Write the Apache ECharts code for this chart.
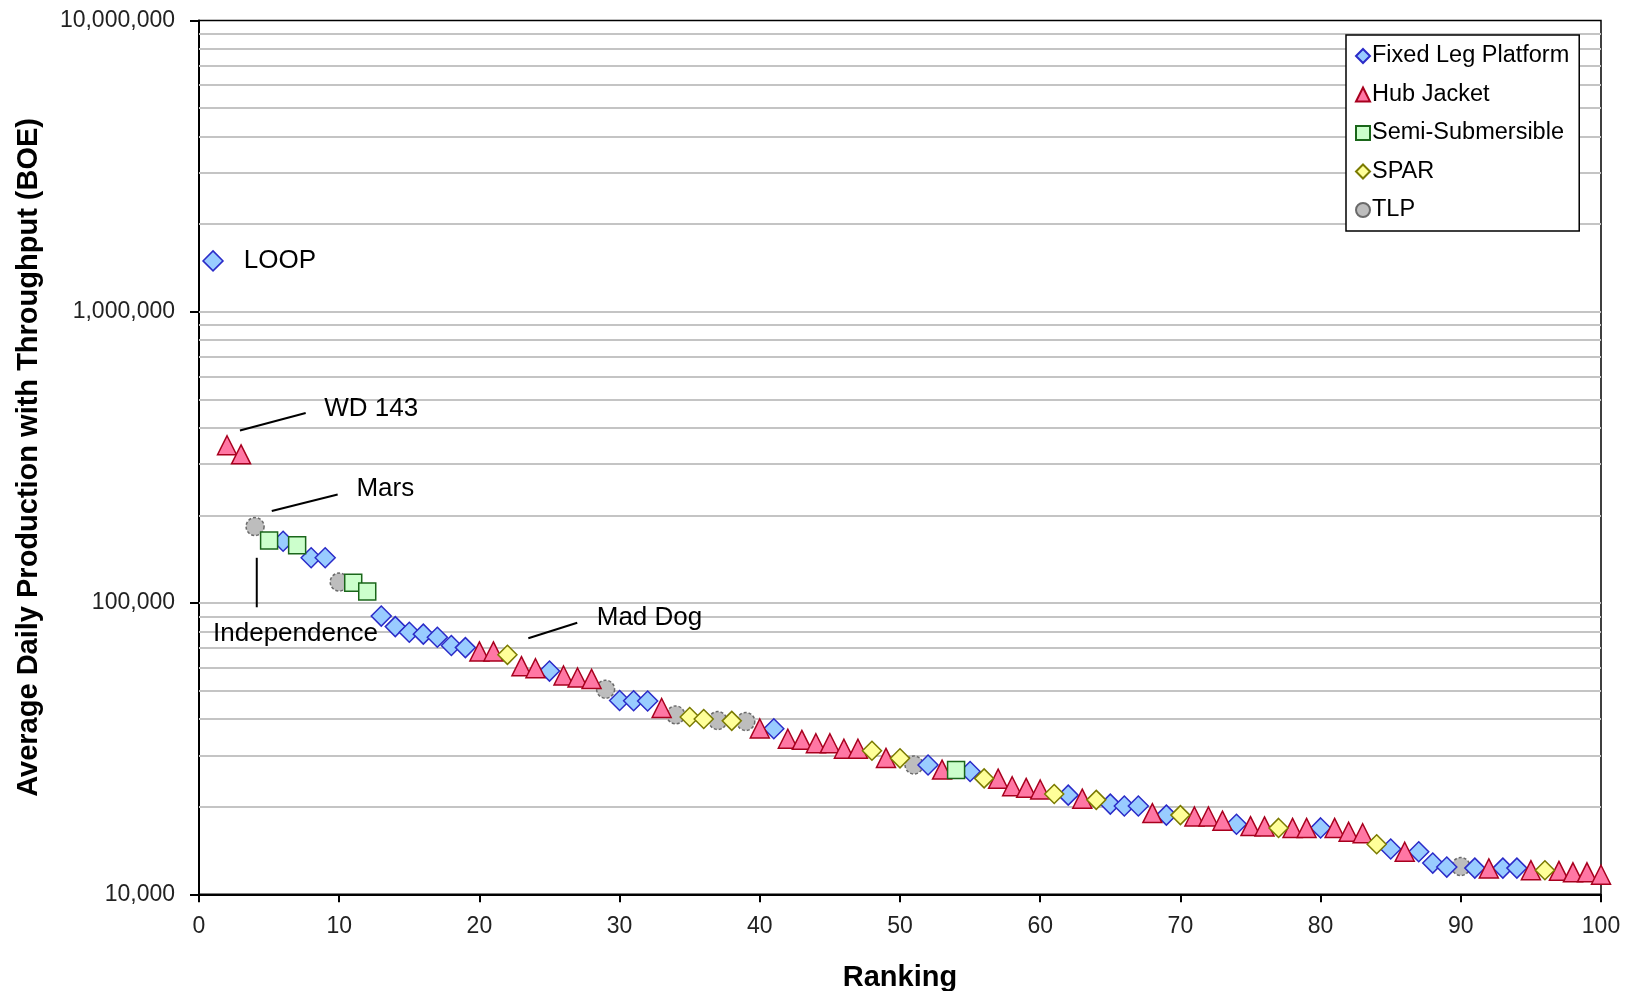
<!DOCTYPE html>
<html>
<head>
<meta charset="utf-8">
<script src="https://cdn.jsdelivr.net/npm/echarts@6/dist/echarts.min.js"></script>
<style>
  html, body { margin: 0; padding: 0; background: #fff; }
  #chart { width: 1626px; height: 991px; }
</style>
</head>
<body>
<div id="chart"></div>
<script>
// Average daily production (BOE, incl. throughput) for the top 100 facilities, by ranking (1 = highest)
const production = [
  1495000, 348000, 324000, 183000, 164000, 163000, 158000, 143000, 143000, 118000,
  117500, 109500, 90200, 83000, 79400, 78200, 76300, 71500, 70300, 68200,
  68200, 66400, 60700, 59700, 58400, 56400, 55500, 54900, 50600, 46300,
  46200, 46100, 43600, 41300, 40600, 40000, 39500, 39400, 39200, 37100,
  37000, 34200, 33900, 33000, 33000, 31600, 31600, 31100, 29400, 29300,
  27800, 27800, 26800, 26700, 26400, 25000, 24950, 23500, 23200, 22900,
  22100, 21900, 21300, 21100, 20400, 20100, 20100, 19000, 18700, 18700,
  18500, 18500, 17900, 17400, 17150, 17100, 16900, 16900, 16900, 16900,
  16900, 16400, 16200, 14850, 14300, 14000, 14000, 12800, 12400, 12450,
  12300, 12270, 12300, 12300, 12100, 12100, 12040, 11900, 11900, 11670
];

// Platform type of each ranked facility (F fixed leg, H hub jacket, S semi-sub, P SPAR, T TLP)
const platform = [
  'F','H','H','T','S','F','S','F','F','T',
  'S','S','F','F','F','F','F','F','F','H',
  'H','P','H','H','F','H','H','H','T','F',
  'F','F','H','T','P','P','T','P','T','H',
  'F','H','H','H','H','H','H','P','H','P',
  'T','F','H','S','F','P','H','H','H','H',
  'P','F','H','P','F','F','F','H','F','P',
  'H','H','H','F','H','H','P','H','H','F',
  'H','H','H','P','F','H','F','F','F','T',
  'F','H','F','F','H','P','H','H','H','H'
];

const platformNames = {
  F: 'Fixed Leg Platform',
  H: 'Hub Jacket',
  S: 'Semi-Submersible',
  P: 'SPAR',
  T: 'TLP'
};

// y-axis decade labels
const yTicks = [10000, 100000, 1000000, 10000000];

// Named facilities called out on the plot (positions in data units)
const callouts = [
  { text: 'LOOP', at: [3.2, 1490000], align: 'left' },
  { text: 'WD 143', at: [8.93, 463000], align: 'left', leader: [[2.92, 391000], [7.61, 449000]] },
  { text: 'Mars', at: [11.23, 246000], align: 'left', leader: [[5.19, 207000], [9.89, 236000]] },
  { text: 'Independence', at: [6.88, 78700], align: 'center', leader: [[4.12, 143000], [4.12, 96700]] },
  { text: 'Mad Dog', at: [28.37, 89300], align: 'left', leader: [[23.49, 75700], [26.98, 85600]] }
];

const FONT = '"Liberation Sans", Arial, sans-serif';

const markerStyle = {
  F: { symbol: 'diamond', size: 20, fill: '#99CCFF', border: '#2B2BC8', z: 3 },
  H: { symbol: 'triangle', size: 19, fill: '#FF77A4', border: '#A8001E', z: 4 },
  S: { symbol: 'rect', size: 17, fill: '#CCFFCC', border: '#1A661A', z: 6 },
  P: { symbol: 'diamond', size: 19, fill: '#FFFF99', border: '#7A7A00', z: 5 },
  T: { symbol: 'circle', size: 18, fill: '#BDBDBD', border: '#6A6A6A', z: 2 }
};

// light gridlines at every 1..9 multiple inside each decade
const gridValues = [];
yTicks.slice(0, -1).forEach(function (d) {
  for (let m = 1; m <= 9; m++) {
    if (!(d === yTicks[0] && m === 1)) gridValues.push(m * d);
  }
});

const series = ['F', 'H', 'S', 'P', 'T'].map(function (code, idx) {
  const st = markerStyle[code];
  const pts = [];
  production.forEach(function (v, i) {
    if (platform[i] === code) pts.push([i + 1, v]);
  });
  const s = {
    name: platformNames[code],
    type: 'scatter',
    data: pts,
    symbol: st.symbol,
    symbolSize: st.size,
    z: st.z,
    itemStyle: {
      color: st.fill,
      borderColor: st.border,
      borderWidth: 1.5,
      borderType: code === 'T' ? [3, 2] : 'solid',
      opacity: 1
    },
    emphasis: { disabled: true },
    animation: false
  };
  if (idx === 0) {
    s.markLine = {
      silent: true,
      symbol: 'none',
      z: 1,
      label: { show: false },
      lineStyle: { color: '#C4C4C4', width: 2, type: 'solid' },
      data: gridValues.map(function (v) { return { yAxis: v }; }),
      animation: false
    };
  }
  return s;
});

const chart = echarts.init(document.getElementById('chart'), null, { renderer: 'canvas' });

chart.setOption({
  backgroundColor: '#fff',
  animation: false,
  textStyle: { fontFamily: FONT },
  grid: {
    left: 199, right: 25, top: 20.5, bottom: 96.7,
    containLabel: false,
    outerBoundsMode: 'none',
    show: true, borderColor: '#000', borderWidth: 1.5, backgroundColor: '#fff'
  },
  legend: {
    orient: 'vertical',
    left: 1346,
    top: 35,
    padding: [9, 10, 9, 9],
    itemWidth: 14,
    itemHeight: 14,
    itemGap: 14.5,
    backgroundColor: '#fff',
    borderColor: '#000',
    borderWidth: 1.5,
    borderRadius: 0,
    selectedMode: false,
    textStyle: { fontFamily: FONT, fontSize: 23.5, color: '#000', lineHeight: 24, padding: [0, 0, 0, -3] },
    data: ['F', 'H', 'S', 'P', 'T'].map(function (c) { return { name: platformNames[c] }; })
  },
  xAxis: {
    type: 'value',
    min: 0,
    max: 100,
    interval: 10,
    name: 'Ranking',
    nameLocation: 'middle',
    nameGap: 69,
    nameTextStyle: { fontFamily: FONT, fontSize: 29, fontWeight: 'bold', color: '#000' },
    axisLine: { show: true, onZero: false, lineStyle: { color: '#000', width: 2 } },
    axisTick: { show: true, inside: false, length: 8, lineStyle: { color: '#000', width: 2 } },
    axisLabel: { fontFamily: FONT, fontSize: 23, color: '#222', margin: 21 },
    splitLine: { show: false }
  },
  yAxis: {
    type: 'log',
    logBase: 10,
    min: yTicks[0],
    max: yTicks[yTicks.length - 1],
    name: 'Average Daily Production with Throughput (BOE)',
    nameLocation: 'middle',
    nameGap: 156,
    nameTextStyle: { fontFamily: FONT, fontSize: 29, fontWeight: 'bold', color: '#000' },
    axisLine: { show: true, lineStyle: { color: '#000', width: 2 } },
    axisTick: { show: true, inside: false, length: 9, lineStyle: { color: '#000', width: 2 } },
    axisLabel: {
      fontFamily: FONT, fontSize: 23, color: '#222', margin: 24,
      formatter: function (v) { return Number(v).toLocaleString('en-US'); }
    },
    splitLine: { show: false },
    minorTick: { show: false }
  },
  series: series
});

// Callout texts and leader lines, placed through the chart's own coordinate system
function drawCallouts() {
  const toPx = function (p) { return chart.convertToPixel({ xAxisIndex: 0, yAxisIndex: 0 }, p); };
  const els = [];
  callouts.forEach(function (c) {
    const p = toPx(c.at);
    els.push({
      type: 'text',
      x: p[0], y: p[1],
      z: 10,
      silent: true,
      style: {
        text: c.text,
        font: '26px ' + FONT,
        fill: '#000',
        textAlign: c.align, align: c.align,
        textVerticalAlign: 'middle', verticalAlign: 'middle'
      }
    });
    if (c.leader) {
      const a = toPx(c.leader[0]);
      const b = toPx(c.leader[1]);
      els.push({
        type: 'line',
        z: 10,
        silent: true,
        shape: { x1: a[0], y1: a[1], x2: b[0], y2: b[1] },
        style: { stroke: '#000', lineWidth: 2 }
      });
    }
  });
  chart.setOption({ graphic: els });
}
drawCallouts();
</script>
</body>
</html>
